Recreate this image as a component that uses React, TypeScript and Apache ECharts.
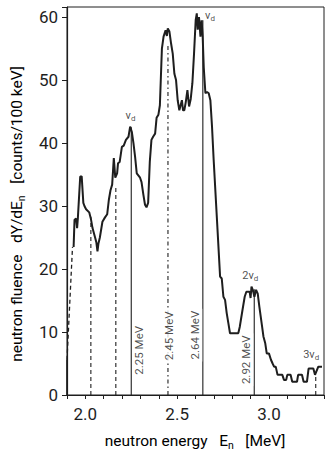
import React, { useEffect, useRef } from "react";
import * as echarts from "echarts";

// neutron energy (MeV) and fluence (counts / 100 keV)
const energy = [1.936,1.941,1.950,1.955,1.959,1.972,1.980,1.989,1.995,2.004,2.021,2.030,2.039,2.053,2.060,2.066,2.071,2.079,2.093,2.107,2.119,2.128,2.137,2.146,2.155,2.163,2.173,2.178,2.187,2.199,2.209,2.221,2.235,2.244,2.253,2.262,2.271,2.280,2.298,2.306,2.316,2.325,2.333,2.342,2.351,2.360,2.369,2.380,2.388,2.398,2.406,2.417,2.426,2.437,2.444,2.449,2.458,2.467,2.476,2.485,2.494,2.503,2.512,2.519,2.526,2.532,2.539,2.547,2.556,2.565,2.574,2.583,2.592,2.601,2.607,2.612,2.619,2.627,2.633,2.639,2.645,2.654,2.663,2.672,2.681,2.690,2.699,2.717,2.734,2.743,2.752,2.761,2.770,2.779,2.788,2.833,2.841,2.856,2.868,2.877,2.895,2.900,2.905,2.913,2.921,2.930,2.939,2.948,2.963,2.970,2.980,2.988,3.000,3.011,3.020,3.028,3.037,3.047,3.073,3.082,3.094,3.100,3.118,3.127,3.153,3.159,3.180,3.189,3.207,3.216,3.242,3.251,3.269,3.289];
const fluence = [23.5,27.8,28,26.5,28,34.7,34.7,30.5,30,29.5,29,28,26.5,25,24.2,22.8,24,25,27.5,28.2,28.7,31,32.5,33.4,37.6,34.5,35.2,36.8,37,39.4,39.6,40.5,41,42.6,41.8,40,37.8,35.2,34.5,33.8,31.8,30.2,29.8,30.5,37,40.5,41,41.5,44,44.5,46,55,56.9,57.9,57,58.2,57.7,55.8,54.2,51,50,46.8,45.2,46,46.8,45.2,45.2,46.5,48.4,45.8,47,49.5,54.2,59.5,60.6,58,60,56.9,59.5,57,52,47.9,48.1,47.9,46.8,42.6,37.3,27.8,18.8,18.5,15.6,15.1,13,11.4,9.8,9.8,10.8,13.5,15.6,16.4,16.4,15.4,17.2,16.6,15.6,16.7,16.1,14,10.8,9.3,8.2,6.6,6.6,5.6,5,4.5,4.5,3.2,3.2,2.4,2.4,3.2,3.2,2.1,2.1,3.2,3.2,2.1,2.1,4.2,4.2,3.2,4.5,4.5];

// low-energy extrapolation (dashed)
const extrapEnergy = [1.9, 1.93];
const extrapFluence = [5.6, 23.5];
const cutEnergy = [1.9, 1.9];
const cutFluence = [0, 5.6];

// vertical marker lines
const markerEnergy = [2.03, 2.166, 2.25, 2.45, 2.64, 2.92, 3.255];
const markerTop = [28.3, 33, 42.5, 55.8, 59.5, 16.8, 3.2];
const markerKind = ["dashed", "dashed", "solid", "dashdot", "solid", "solid", "dashed"];

// tick labels
const xTickLabels = ["2.0", "2.5", "3.0"];
const yTickLabels = ["0", "10", "20", "30", "40", "50", "60"];

// annotations
const mevLabels = ["2.25 MeV", "2.45 MeV", "2.64 MeV", "2.92 MeV"];
const mevAt = [[2.294, 7.1], [2.455, 9.4], [2.599, 9.5], [2.877, 5.6]];
const nuLabels = ["{v|v}{s|d}", "{v|v}{s|d}", "{v|2v}{s|d}", "{v|3v}{s|d}"];
const nuAt = [[2.246, 44.3], [2.679, 60.3], [2.898, 19], [3.23, 6.5]];

const FONT = "Roboto, 'Liberation Sans', sans-serif";
const INK = "#1e1e1e";

export default function App() {
  const ref = useRef<HTMLDivElement>(null);
  useEffect(() => {
    if (!ref.current) return;
    const chart = echarts.init(ref.current, null, { renderer: "svg" });

    const series: any[] = [];
    series.push({
      type: "line",
      data: energy.map((e, i) => [e, fluence[i]]),
      symbol: "none",
      lineStyle: { color: INK, width: 2 },
      z: 5,
    });
    series.push({
      type: "line",
      data: cutEnergy.map((e, i) => [e, cutFluence[i]]),
      symbol: "none",
      lineStyle: { color: INK, width: 1.5 },
    });
    series.push({
      type: "line",
      data: extrapEnergy.map((e, i) => [e, extrapFluence[i]]),
      symbol: "none",
      lineStyle: { color: INK, width: 1.3, type: [4, 3] },
    });
    markerEnergy.forEach((e, i) => {
      const k = markerKind[i];
      series.push({
        type: "line",
        data: [[e, 0], [e, markerTop[i]]],
        symbol: "none",
        lineStyle: {
          color: INK,
          width: 1.1,
          type: k === "solid" ? "solid" : k === "dashed" ? [4, 3] : [4, 3, 1.5, 3],
        },
        z: 3,
      });
    });
    const rich = {
      v: { fontSize: 11, fontFamily: FONT, color: INK },
      s: { fontSize: 8, fontFamily: FONT, color: INK, padding: [6, 0, 0, 0] },
    };
    series.push({
      type: "scatter",
      symbolSize: 0,
      z: 10,
      data: [
        ...mevLabels.map((t, i) => ({
          value: mevAt[i],
          label: {
            show: true,
            position: "inside",
            rotate: 90,
            formatter: t,
            fontSize: 11.5,
            fontFamily: FONT,
            color: INK,
            backgroundColor: "#fff",
            padding: [1, 2],
          },
        })),
        ...nuLabels.map((t, i) => ({
          value: nuAt[i],
          label: { show: true, position: "inside", formatter: t, rich },
        })),
      ],
    });

    const nameRich = {
      n: { fontSize: 15.5, fontFamily: FONT, color: INK },
      s: { fontSize: 10.5, fontFamily: FONT, color: INK, padding: [8, 0, 0, 0] },
    };

    chart.setOption({
      animation: false,
      grid: { left: 67, top: 7, width: 262, height: 388, show: true, borderColor: INK, borderWidth: 1 },
      xAxis: {
        type: "value",
        min: 1.9,
        max: 3.3,
        interval: 0.1,
        splitLine: { show: false },
        axisLine: { lineStyle: { color: INK, width: 1.2 } },
        axisTick: { inside: false, length: 4, lineStyle: { color: INK } },
        axisLabel: {
          margin: 10,
          fontSize: 17,
          fontFamily: FONT,
          color: INK,
          formatter: (v: number) => {
            const s = v.toFixed(1);
            return xTickLabels.includes(s) ? s : "";
          },
        },
      },
      yAxis: {
        type: "value",
        min: 0,
        max: 61.6,
        interval: 10,
        splitLine: { show: false },
        axisLine: { show: true, lineStyle: { color: INK, width: 1.2 } },
        axisTick: { show: true, length: 5, lineStyle: { color: INK } },
        axisLabel: {
          margin: 9,
          fontSize: 17,
          fontFamily: FONT,
          color: INK,
          formatter: (v: number) => {
            const s = String(Math.round(v));
            return Math.abs(v - Math.round(v)) < 1e-6 && yTickLabels.includes(s) ? s : "";
          },
        },
      },
      series,
      graphic: [
        {
          type: "text",
          x: 195,
          y: 441,
          style: {
            text: "{n|neutron energy   E}{s|n}{n|   [MeV]}",
            rich: nameRich,
            align: "center",
            verticalAlign: "middle",
          },
        },
        {
          type: "text",
          x: 17,
          y: 214,
          rotation: Math.PI / 2,
          style: {
            text: "{n|neutron fluence   dY/dE}{s|n}{n|   [counts/100 keV]}",
            rich: nameRich,
            align: "center",
            verticalAlign: "middle",
          },
        },
      ],
    });
    return () => chart.dispose();
  }, []);
  return <div ref={ref} style={{ width: 327, height: 450, position: "absolute", left: 0, top: 0 }} />;
}
